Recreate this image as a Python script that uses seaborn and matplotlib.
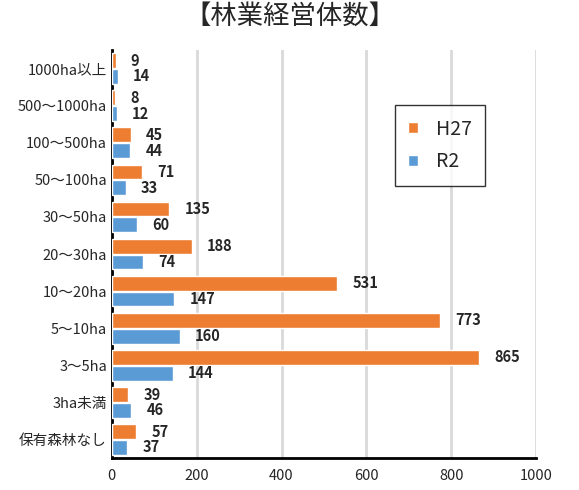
import matplotlib
matplotlib.use("Agg")
import matplotlib.pyplot as plt
import seaborn as sns
import pandas as pd

categories = ["1000ha以上", "500～1000ha", "100～500ha", "50～100ha", "30～50ha",
              "20～30ha", "10～20ha", "5～10ha", "3～5ha", "3ha未満", "保有森林なし"]
h27 = [9, 8, 45, 71, 135, 188, 531, 773, 865, 39, 57]
r2 = [14, 12, 44, 33, 60, 74, 147, 160, 144, 46, 37]
series = ["H27", "R2"]

df = pd.DataFrame({
    "区分": categories * 2,
    "経営体数": h27 + r2,
    "年": [series[0]] * len(categories) + [series[1]] * len(categories),
})

sns.set_style("white")
plt.rcParams["font.family"] = ["Noto Sans CJK JP", "DejaVu Sans"]

fig = plt.figure(figsize=(5.79, 4.90), dpi=100)
ax = fig.add_axes([0.193, 0.065, 0.733, 0.833])

sns.barplot(data=df, y="区分", x="経営体数", hue="年", orient="h",
            palette=["#ED7D31", "#5B9BD5"], saturation=1, width=0.85, gap=0.06,
            order=categories, hue_order=series, ax=ax, zorder=3)

for cont in ax.containers:
    ax.bar_label(cont, padding=11, fontsize=10.5, fontweight="bold",
                 family=["Noto Sans CJK JP", "DejaVu Sans"])

ax.set_xlim(0, 1000)
ax.set_xticks([0, 200, 400, 600, 800, 1000])
ax.grid(axis="x", color="#d9d9d9", linewidth=2, zorder=0)
ax.set_axisbelow(True)
ax.set_xlabel("")
ax.set_ylabel("")
ax.tick_params(axis="both", length=0, labelsize=10.5)
ax.tick_params(axis="x", pad=8, labelsize=10.5)
for s in ["top", "right"]:
    ax.spines[s].set_visible(False)
for s in ["left", "bottom"]:
    ax.spines[s].set_color("black")
    ax.spines[s].set_linewidth(2)

leg = ax.legend(loc="upper left", bbox_to_anchor=(0.667, 0.865), borderaxespad=0,
                fontsize=14, frameon=True, fancybox=False, edgecolor="black",
                handlelength=0.5, handleheight=0.5, labelspacing=0.6,
                borderpad=0.7, handletextpad=0.9)
leg.get_frame().set_linewidth(1)

fig.suptitle("【林業経営体数】", fontsize=19, y=0.995)

fig.savefig("out.png", dpi=100)
